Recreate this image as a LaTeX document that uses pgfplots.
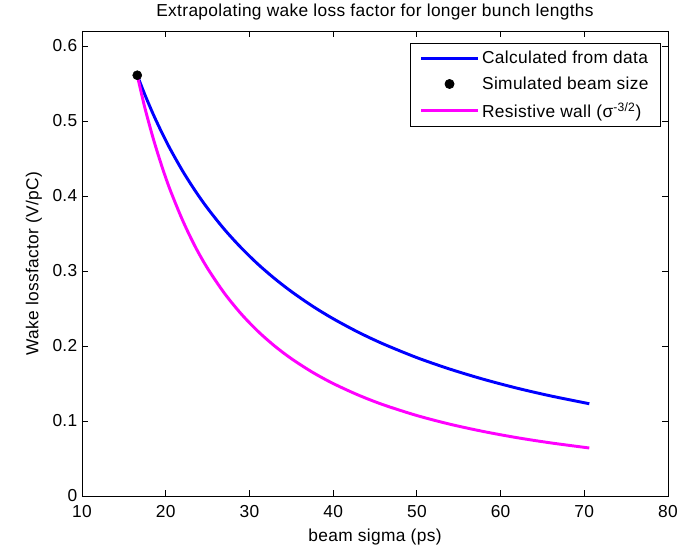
\documentclass[border=0pt]{standalone}
\usepackage{fontspec}
\setmainfont[LetterSpace=2]{Liberation Sans}
\usepackage{pgfplots}
\pgfplotsset{compat=1.18}
\usetikzlibrary{calc}
\definecolor{mblue}{RGB}{0,0,255}
\definecolor{mmag}{RGB}{255,0,255}
\newcommand{\mfont}{\fontsize{13}{15.6}\selectfont}
\pgfplotsset{
  lineleg/.style={legend image code/.code={\draw[##1] (0pt,0pt) -- (42.75pt,0pt);}},
  markleg/.style={legend image code/.code={\draw[##1] plot coordinates {(21.4pt,0pt)};}},
}
\begin{document}
\begin{tikzpicture}
\begin{axis}[
  scale only axis,
  width=439.5pt, height=348.75pt,
  xmin=10, xmax=80, ymin=0, ymax=0.62,
  xtick={10,20,...,80},
  ytick={0,0.1,0.2,0.3,0.4,0.5,0.6},
  /pgf/number format/assume math mode=true,
  yticklabel style={/pgf/number format/fixed, /pgf/number format/precision=1},
  tick label style={font=\mfont},
  xticklabel style={anchor=base, yshift=-16.3pt},
  major tick length=4.5pt,
  minor tick num=0,
  axis line style={line width=0.6pt},
  every tick/.style={black, line width=0.6pt},
  title={Extrapolating wake loss factor for longer bunch lengths},
  every axis title/.style={font=\mfont, at={(axis description cs:0.5,1.0301)}, anchor=base},
  xlabel={beam sigma (ps)},
  xlabel style={font=\mfont, at={(axis description cs:0.5,-0.0968)}, anchor=base},
  ylabel={Wake lossfactor (V/pC)},
  ylabel style={font=\mfont, at={(axis description cs:-0.0819,0.5)}, anchor=center},
  legend cell align=left,
  legend style={font=\mfont, at={(axis description cs:0.988,0.974)}, anchor=north east,
    draw=black, line width=0.6pt, inner xsep=7pt, inner ysep=3.5pt, row sep=4.5pt},
]
\addplot[mblue, line width=2.2pt, smooth, lineleg]
  coordinates {(16.6,0.561)(17.5,0.5354)(18.5,0.5092)(19.5,0.4854)(20.5,0.4634)(22,0.4337)(23.5,0.4073)(25,0.3836)(27,0.3556)(29,0.3311)(31,0.3093)(33,0.2900)(35,0.2727)(37.5,0.2534)(40,0.2364)(43,0.2184)(46,0.2027)(50,0.1845)(54,0.1690)(58,0.1555)(62,0.1437)(66,0.1334)(70.6,0.1230)};
\addlegendentry{Calculated from data}
\addplot[only marks, mark=*, mark size=3.4pt, black, markleg]
  coordinates {(16.6,0.561)};
\addlegendentry{Simulated beam size}
\addplot[mmag, line width=2.2pt, smooth, lineleg]
  coordinates {(16.6,0.561)(17.5,0.518)(18.5,0.477)(19.5,0.441)(20.5,0.409)(22,0.368)(23.5,0.333)(25,0.3035)(27,0.2705)(29,0.243)(31,0.2198)(33,0.2001)(35,0.1832)(37.5,0.1652)(40,0.150)(43,0.1346)(46,0.1216)(50,0.1073)(54,0.0956)(58,0.0859)(62,0.0777)(66,0.0708)(70.6,0.064)};
\addlegendentry{Resistive wall (σ\textsuperscript{-3/2})}
\end{axis}
\pgfresetboundingbox
\path ($(current axis.south west)+(-61.5pt,-39.75pt)$) rectangle ($(current axis.north east)+(18pt,23.25pt)$);
\end{tikzpicture}
\end{document}
